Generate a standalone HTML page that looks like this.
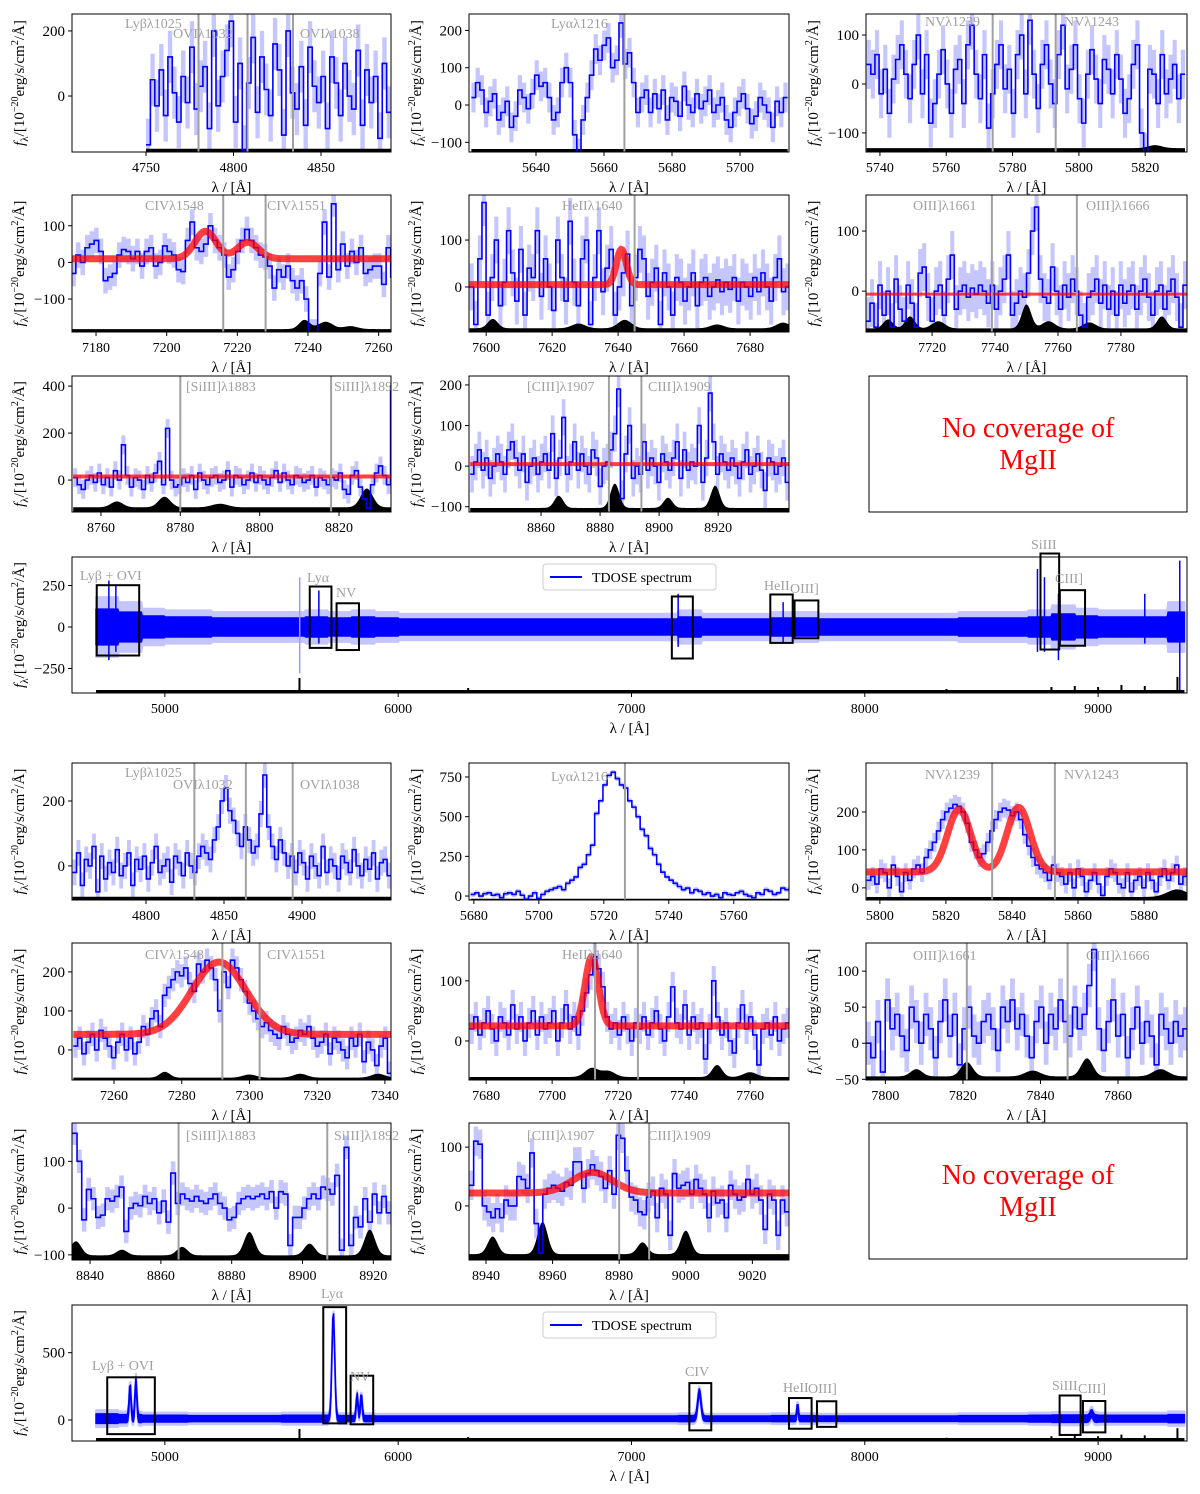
<!DOCTYPE html>
<html><head><meta charset="utf-8"><style>
html,body{margin:0;padding:0;background:#fff}
svg{display:block;font-family:"Liberation Serif",serif}
</style></head><body>
<svg id="fig" width="1200" height="1494" viewBox="0 0 1200 1494"></svg>
<script>
// ---------- data ----------
const fluxP1=[-150,50,-30,80,-60,120,10,-80,60,-20,150,-40,30,90,-100,200,-30,60,140,230,-80,100,-170,40,180,-50,120,20,-60,160,80,-120,200,10,-40,90,-90,150,30,-20,60,-100,120,40,-60,100,0,-40,140,-90,80,-20,60,-130,100,-50];
const fluxP2=[20,60,40,-20,10,30,-40,-20,10,-60,-30,40,20,-10,30,80,50,60,20,-40,-20,60,100,60,-80,-130,-40,20,80,150,120,160,180,100,120,220,110,140,60,-20,20,40,-20,30,-10,40,-40,20,10,-30,50,0,-20,30,-10,10,40,-20,0,20,-40,-60,-20,10,30,-10,-50,-30,20,0,-20,-60,10,-20,20];
const fluxP3=[40,20,60,-20,30,-60,10,50,80,20,-30,40,100,-20,60,-80,-40,20,70,0,-60,30,50,-40,80,120,20,-30,60,-90,-20,40,80,-10,30,-60,60,100,-20,130,20,-50,40,80,0,-40,60,120,-10,30,80,-30,-80,20,70,10,-40,50,30,-20,60,10,-60,-30,40,80,-100,-150,30,20,-40,60,-20,10,40,-30,20];
const fluxP4=[-30,20,0,40,50,60,30,-50,-40,-30,20,35,30,10,30,-10,30,40,-10,0,45,30,20,-20,-25,60,110,40,30,50,100,60,40,20,-40,-20,30,60,90,60,40,20,15,-10,-70,-20,-40,-10,-50,-70,-50,-100,-190,-190,-30,110,-40,160,-20,50,-10,30,0,40,-30,-20,-10,-10,-60,40,-40,-100];
const fluxP5=[0,-80,60,180,-60,20,100,-40,10,120,30,-30,80,-60,40,20,120,-20,60,0,-50,100,20,-30,140,10,-40,60,100,-80,20,120,-10,40,80,-60,0,30,70,-40,20,80,60,-20,10,40,-80,30,0,-60,20,10,-30,0,30,-40,10,20,-20,0,15,-10,10,-5,20,-30,10,0,-20,20,-10,30,0,-30,20,60,-10,0];
const fluxP6=[-50,-20,-60,10,-40,0,-60,20,-30,-50,10,-20,-60,30,40,-10,-50,0,10,-40,20,60,-30,0,10,-10,5,-5,10,0,-20,10,-30,0,20,60,-40,-20,0,-10,30,100,140,20,-10,-20,40,0,-30,10,-10,20,0,-40,-60,-10,0,20,-20,10,-30,0,-40,10,-20,0,10,-30,0,20,-10,-40,0,10,-30,0,20,-10,-60,10];
const fluxP7=[10,-20,-40,0,20,-10,30,-20,10,-30,40,0,150,20,-30,10,0,-40,20,-10,30,80,-20,220,0,-30,-20,10,-10,20,-40,30,0,-20,10,20,-10,0,40,-30,20,10,-20,0,30,-10,20,0,-20,10,40,-10,30,0,-20,20,10,-10,0,20,-30,10,0,-20,10,0,30,-40,-60,20,40,-30,-80,-120,-20,30,60,20,-20,400];
const fluxP8=[-20,10,40,-10,20,-30,0,30,10,-20,40,60,20,-10,30,-40,0,20,-20,10,30,-10,80,-30,20,120,-20,10,60,-10,30,0,-20,40,20,-50,0,10,40,80,190,-80,30,100,-30,0,-20,60,-10,20,0,-40,30,10,-10,20,60,-30,40,-10,10,0,100,-40,20,180,60,-20,30,10,-10,20,0,-30,10,40,-20,0,30,-10,-60,20,10,-20,0,20,-40];
const fluxB1=[-20,40,-60,20,0,60,-80,30,-40,10,-20,50,-30,0,40,-60,20,-10,30,-40,10,60,-20,0,20,-50,30,10,-30,40,0,-20,30,60,40,20,80,120,200,240,170,140,100,60,120,80,40,60,160,280,120,60,20,80,40,0,30,-20,40,10,-40,30,0,-30,60,-20,20,0,-40,30,10,-20,50,0,-30,20,-10,40,-40,10,20,-30];
const fluxB2=[10,20,0,15,20,5,10,-10,15,20,10,30,5,-20,0,20,-15,10,30,40,50,60,40,80,100,120,180,200,260,320,520,600,700,760,780,740,700,680,600,560,500,420,380,300,260,200,150,120,100,80,60,40,50,20,40,30,10,20,0,10,-10,20,10,5,20,30,10,0,-10,20,10,40,30,10,20,50,40];
const fluxB3=[20,30,10,50,40,0,60,30,-10,40,20,50,60,40,80,100,120,150,180,200,210,220,215,200,170,120,100,80,90,120,150,180,200,210,205,190,200,180,140,110,80,60,50,40,20,60,40,30,10,40,0,50,30,-10,20,40,10,-20,30,50,40,10,0,40,-10,20,30,0,40,20,-10,30,50,20,40,60,10,30];
const fluxB4=[10,30,-10,20,40,0,50,30,10,-20,20,40,0,30,-10,20,60,40,80,100,60,140,160,180,200,190,210,170,150,220,200,230,210,180,100,200,160,230,210,180,150,120,100,80,60,70,50,40,30,60,40,20,30,50,40,60,30,10,20,40,-10,30,20,0,-20,30,10,40,-30,20,0,-40,10,30,-60];
const fluxB5=[20,40,10,30,50,20,0,40,30,10,60,20,40,0,30,50,10,40,20,30,50,0,30,60,20,40,10,50,80,110,140,120,90,40,20,30,10,40,20,0,30,20,40,10,30,50,20,0,40,90,30,20,60,10,40,20,30,-30,20,100,40,10,30,0,-20,30,60,20,40,10,-40,20,30,10,40,0,20,30];
const fluxB6=[0,-20,30,-40,60,20,40,10,-10,50,30,0,40,20,-20,30,60,10,40,-30,20,50,10,0,30,40,20,-10,50,30,60,20,40,10,-20,30,50,0,40,20,60,30,10,50,20,40,80,130,20,-10,30,60,10,40,-20,20,50,0,30,10,-30,40,20,0,30,10,20];
const fluxB7=[160,100,-25,40,20,-20,-15,20,15,25,45,-50,0,10,5,25,10,20,-10,15,-30,75,10,30,20,15,25,15,10,20,30,10,0,-25,-20,10,20,25,20,25,30,20,35,0,35,30,-80,-20,-20,0,20,30,20,45,40,30,70,-90,130,-80,-20,-40,20,-30,30,-10,25,-10];
const fluxB8=[35,110,105,0,-10,-20,-5,-20,10,0,0,50,45,30,90,-30,-80,20,30,35,30,25,40,35,75,75,30,55,70,60,50,30,60,20,120,115,60,15,10,-10,-15,15,25,-20,30,20,-50,55,30,35,40,20,45,30,20,-20,25,5,10,-20,35,20,10,15,45,20,30,10,-40,20,10,-50,10,-10];
// wide panels: noise amplitude per 100 A bin from 4700
const ampTop=[180,150,110,100,100,90,90,90,90,100,90,100,90,80,80,80,80,80,80,80,80,80,80,80,80,100,80,80,80,90,90,80,80,80,80,80,80,90,90,90,100,130,110,100,100,100,150];
const ampBot=[70,60,50,50,45,45,45,45,50,50,45,45,40,40,40,40,40,40,40,40,40,40,40,40,40,45,40,40,40,45,45,40,40,40,40,40,40,45,45,45,50,55,55,50,50,50,60];
const featCenters=[4851,4876,5722,5824,5842,7291,7712,8972];
const featPeaks=[240,280,780,170,170,200,100,40];
const featWidths=[4,4,6,4,4,7,3,6];
const spikesTopLam=[4760,4790,5578,5660,7200,7650,8740,8770,8830,9200,9350];
const spikesTopHi=[280,250,300,220,200,150,350,300,200,200,400];
const spikesTopLo=[-200,-150,-280,-100,-120,-100,-150,-150,-200,-100,-380];
const skySpikeLam=[5577,6300,8350,8800,8900,9000,9100,9200,9340];
const skySpikeH=[15,5,4,6,7,6,8,7,16];

// ---------- drawing helpers ----------
const NS='http://www.w3.org/2000/svg';
const svg=document.getElementById('fig');
function mk(tag,attrs,parent){const e=document.createElementNS(NS,tag);for(const k in attrs)e.setAttribute(k,attrs[k]);(parent||svg).appendChild(e);return e;}
let clipId=0;
function fmt(v){return v<0?'\u2212'+Math.abs(v):String(v);}
function ylabel(g,x,cy){
  const t=mk('text',{x:0,y:0,transform:`translate(${x},${cy}) rotate(-90)`,'text-anchor':'middle','font-size':15,fill:'#000'},g);
  
  
  t.innerHTML='<tspan font-style="italic">f</tspan><tspan font-size="11" dy="4">λ</tspan><tspan dy="-4">/[10</tspan><tspan font-size="10" dy="-6">−20</tspan><tspan dy="6">erg/s/cm</tspan><tspan font-size="10" dy="-6">2</tspan><tspan dy="6">/Å]</tspan>';
}
function xlabel(g,cx,y){
  const t=mk('text',{x:cx,y:y,'text-anchor':'middle','font-size':15,fill:'#000'},g);
  
  
  t.textContent='λ / [Å]';
}
function axes(g,c,X,Y){
  const f=mk('rect',{x:c.x,y:c.y,width:c.w,height:c.h,fill:'none',stroke:'#000','stroke-width':1},g);
  
  
  c.xt.forEach(v=>{const px=X(v);
    const tk=mk('line',{x1:px,x2:px,y1:c.y+c.h,y2:c.y+c.h+4,stroke:'#000'},g);
    
    
    const tl=mk('text',{x:px,y:c.y+c.h+20,'text-anchor':'middle','font-size':14},g);
    
    
    tl.textContent=fmt(v);});
  c.yt.forEach(v=>{const py=Y(v);
    const tk=mk('line',{x1:c.x-4,x2:c.x,y1:py,y2:py,stroke:'#000'},g);
    
    
    const tl=mk('text',{x:c.x-7,y:py+5,'text-anchor':'end','font-size':15},g);
    
    
    tl.textContent=fmt(v);});
  xlabel(g,c.x+c.w/2,c.y+c.h+40);
  ylabel(g,c.ylx||c.x-48,c.y+c.h/2);
}
function clip(g,c){
  const id='cp'+(clipId++);
  const cp=mk('clipPath',{id:id},g);
  mk('rect',{x:c.x,y:c.y,width:c.w,height:c.h},cp);
  const inner=mk('g',{'clip-path':`url(#${id})`},g);
  return inner;
}
function drawPanel(c){
  const g=mk('g',{});
  
  
  const X=v=>c.x+(v-c.xr[0])/(c.xr[1]-c.xr[0])*c.w;
  const Y=v=>c.y+c.h-(v-c.yr[0])/(c.yr[1]-c.yr[0])*c.h;
  const inner=clip(g,c);
  const n=c.flux.length, dl=(c.l1-c.l0)/n;
  let eb='';
  c.flux.forEach((f,i)=>{const a=c.l0+i*dl;eb+=`M${X(a)},${Y(f+c.err)}H${X(a+dl)}V${Y(f-c.err)}H${X(a)}Z`;});
  const band=mk('path',{d:eb,fill:'#b3b3ff','fill-opacity':0.75},inner);
  
  
  let sp=`M${X(c.l0)},${c.y+c.h}`;
  for(let k=0;k<=300;k++){const l=c.l0+(c.l1-c.l0)*k/300;let v=c.skyBase;c.sky.forEach(b=>{v+=b[1]*Math.exp(-((l-b[0])**2)/(2*b[2]*b[2]));});sp+=`L${X(l)},${Y(c.yr[0]+v)}`;}
  sp+=`L${X(c.l1)},${c.y+c.h}Z`;
  const sky=mk('path',{d:sp,fill:'#000'},inner);
  
  
  let d=`M${X(c.l0)},${Y(c.flux[0])}`;
  c.flux.forEach((f,i)=>{const a=c.l0+i*dl;d+=`V${Y(f)}H${X(a+dl)}`;});
  const st=mk('path',{d:d,fill:'none',stroke:'#0000ff','stroke-width':1.6},inner);
  
  
  if(c.model){
    let md='';
    for(let k=0;k<=300;k++){const l=c.l0+(c.l1-c.l0)*k/300;let v=c.model.c;c.model.g.forEach(q=>{v+=q[1]*Math.exp(-((l-q[0])**2)/(2*q[2]*q[2]));});md+=(k?'L':'M')+X(l)+','+Y(v);}
    const m=mk('path',{d:md,fill:'none',stroke:'#ff0000','stroke-opacity':0.75,'stroke-width':c.model.w||7},inner);
    
    
  }
  c.lines.forEach(l=>{
    const ln=mk('line',{x1:X(l),x2:X(l),y1:c.y,y2:c.y+c.h,stroke:'#a0a0a0','stroke-width':2},inner);
    
    
  });
  c.labels.forEach(t=>{
    const tx=mk('text',{x:t[1],y:t[2],'font-size':14,fill:'#a0a0a0'},g);
    
    
    tx.textContent=t[0];
  });
  axes(g,c,X,Y);
}
function drawWide(c){
  const g=mk('g',{});
  
  
  const X=v=>c.x+(v-c.xr[0])/(c.xr[1]-c.xr[0])*c.w;
  const Y=v=>c.y+c.h-(v-c.yr[0])/(c.yr[1]-c.yr[0])*c.h;
  const inner=clip(g,c);
  const sig=l=>{let v=c.cont;if(c.feat){featCenters.forEach((m,i)=>{v+=featPeaks[i]*Math.exp(-((l-m)**2)/(2*featWidths[i]**2));});}return v;};
  const ampAt=l=>c.amp[Math.min(c.amp.length-1,Math.max(0,Math.floor((l-4700)/100)))];
  const L0=4705,L1=9370;
  [[c.halo,'#c4c4ff','wide-error-band',2],[c.dark,'#0000ff','wide-flux-band',1.5]].forEach(s=>{
    let up='',lo='';const N=1200;
    for(let k=0;k<=N;k++){const l=L0+(L1-L0)*k/N;const a=ampAt(l)*s[0];up+=(k?'L':'M')+X(l)+','+Y(sig(l)+a);}
    for(let k=N;k>=0;k--){const l=L0+(L1-L0)*k/N;const a=ampAt(l)*s[0];lo+='L'+X(l)+','+Y(sig(l)-a);}
    const p=mk('path',{d:up+lo+'Z',fill:s[1],stroke:s[1],'stroke-width':s[3],'stroke-linejoin':'round'},inner);
    
    
  });
  if(c.spikes){
    spikesTopLam.forEach((l,i)=>{
      const sl=mk('line',{x1:X(l),x2:X(l),y1:Y(spikesTopHi[i]),y2:Y(spikesTopLo[i]),stroke:i==2?'#9a9aff':'#0000ff','stroke-width':1.5},inner);
      
      
    });
  }
  let sp=`M${X(4705)},${c.y+c.h}V${c.y+c.h-3}H${X(9370)}V${c.y+c.h}Z`;
  skySpikeLam.forEach((l,i)=>{sp+=`M${X(l)-1},${c.y+c.h}V${c.y+c.h-skySpikeH[i]*c.skyScale}H${X(l)+1}V${c.y+c.h}Z`;});
  const sky=mk('path',{d:sp,fill:'#000'},inner);
  
  
  c.boxes.forEach(b=>{
    const r=mk('rect',{x:X(b[0]),y:Y(b[3]),width:X(b[1])-X(b[0]),height:Y(b[2])-Y(b[3]),fill:'none',stroke:'#000','stroke-width':2},g);
    
    
  });
  c.labels.forEach(t=>{
    const tx=mk('text',{x:t[1],y:t[2],'font-size':14,fill:'#a0a0a0'},g);
    
    
    tx.textContent=t[0];
  });
  const lg=mk('g',{},g);
  
  
  mk('rect',{x:543,y:c.y+7,width:173,height:26,fill:'#fff',stroke:'#ccc',rx:3},lg);
  const ll=mk('line',{x1:550,x2:582,y1:c.y+20,y2:c.y+20,stroke:'#0000ff','stroke-width':2},lg);
  
  
  const lt=mk('text',{x:592,y:c.y+25,'font-size':14},lg);
  
  
  lt.textContent='TDOSE spectrum';
  axes(g,c,X,Y);
}
function noCov(y){
  const g=mk('g',{});
  
  
  mk('rect',{x:869,y:y,width:318,height:136,fill:'none',stroke:'#000'},g);
  const t1=mk('text',{x:1028,y:y+61,'text-anchor':'middle','font-size':28,fill:'#ff0000'},g);
  
  
  t1.textContent='No coverage of';
  const t2=mk('text',{x:1028,y:y+93,'text-anchor':'middle','font-size':28,fill:'#ff0000'},g);
  
  
  t2.textContent='MgII';
}
const W=319,H=137;
// ---------- top block ----------
drawPanel({name:'panel-top-lyb-ovi',x:72,y:14,w:W,h:138,xr:[4707.7,4890],yr:[-172,252],xt:[4750,4800,4850],yt:[0,200],l0:4750,l1:4890,flux:fluxP1,err:80,skyBase:10,sky:[],lines:[4780,4808,4834],labels:[['Lyβλ1025',125,28],['OVIλ1032',173,38],['OVIλ1038',300,38]]});
drawPanel({name:'panel-top-lya',x:469,y:14,w:320,h:138,xr:[5620.3,5714.4],yr:[-126,244],xt:[5640,5660,5680,5700],yt:[-100,0,100,200],l0:5621,l1:5714,flux:fluxP2,err:40,skyBase:8,sky:[],lines:[5666],labels:[['Lyαλ1216',551,28]]});
drawPanel({name:'panel-top-nv',x:866,y:14,w:321,h:138,xr:[5735.8,5832.6],yr:[-139,143],xt:[5740,5760,5780,5800,5820],yt:[-100,0,100],l0:5736,l1:5832,flux:fluxP3,err:50,skyBase:8,sky:[[5823,6,2]],lines:[5774,5793],labels:[['NVλ1239',925,26],['NVλ1243',1064,26]]});
drawPanel({name:'panel-top-civ',x:72,y:195,w:W,h:H,xr:[7173.2,7263.5],yr:[-190,184],xt:[7180,7200,7220,7240,7260],yt:[-100,0,100],l0:7173,l1:7266,flux:fluxP4,err:35,skyBase:8,sky:[[7239,25,1.5],[7245,20,2],[7252,8,2]],model:{c:10,g:[[7211,75,3],[7223,45,3]]},lines:[7216,7228],labels:[['CIVλ1548',145,210],['CIVλ1551',267,210]]});
drawPanel({name:'panel-top-heii',x:469,y:195,w:320,h:H,xr:[7594.8,7691.8],yr:[-96,196],xt:[7600,7620,7640,7660,7680],yt:[0,100],l0:7595,l1:7692,flux:fluxP5,err:50,skyBase:8,sky:[[7602,20,1.5],[7628,10,2],[7642,18,2],[7670,8,2],[7690,12,2]],model:{c:5,g:[[7641,75,1.5]]},lines:[7645],labels:[['HeIIλ1640',562,210]]});
drawPanel({name:'panel-top-oiii',x:866,y:195,w:321,h:H,xr:[7699,7801],yr:[-68,160],xt:[7720,7740,7760,7780],yt:[0,100],l0:7699,l1:7801,flux:fluxP6,err:40,skyBase:6,sky:[[7706,15,1.5],[7713,20,1.5],[7722,12,2],[7750,40,1.5],[7757,12,2],[7770,10,2],[7793,20,1.5]],model:{c:-5,g:[],w:3},lines:[7739,7766],labels:[['OIII]λ1661',913,210],['OIII]λ1666',1086,210]]});
drawPanel({name:'panel-top-siiii',x:72,y:376,w:W,h:136,xr:[8752.7,8833.1],yr:[-136,443],xt:[8760,8780,8800,8820],yt:[0,200,400],l0:8753,l1:8834,flux:fluxP7,err:40,skyBase:20,sky:[[8764,25,1.5],[8776,45,1.5],[8790,15,2],[8827,80,1.5]],model:{c:15,g:[],w:4},lines:[8780,8818],labels:[['[SiIII]λ1883',186,391],['SiIII]λ1892',334,391]]});
drawPanel({name:'panel-top-ciii',x:469,y:376,w:320,h:136,xr:[8835.6,8944],yr:[-113,222],xt:[8860,8880,8900,8920],yt:[-100,0,100,200],l0:8836,l1:8944,flux:fluxP8,err:45,skyBase:10,sky:[[8866,30,1.5],[8885,60,1.5],[8903,25,1.5],[8919,55,1.5]],model:{c:5,g:[],w:4},lines:[8883,8894],labels:[['[CIII]λ1907',527,391],['CIII]λ1909',648,391]]});
noCov(376);
drawWide({name:'panel-top-full-spectrum',x:72,y:557,w:1115,h:136,xr:[4602,9381],yr:[-398,422],xt:[5000,6000,7000,8000,9000],yt:[-250,0,250],amp:ampTop,dark:0.6,halo:1.0,cont:0,feat:false,spikes:true,skyScale:1,ylx:24,
 boxes:[[4708,4890,-172,252],[5621,5714,-126,244],[5736,5832,-139,143],[7173,7263,-190,184],[7595,7691,-96,196],[7699,7801,-68,160],[8753,8833,-136,443],[8836,8944,-113,222]],
 labels:[['Lyβ + OVI',80,580],['Lyα',307,582],['NV',336,597],['CIV',666,585],['HeII',764,590],['OIII]',790,593],['SiIII',1031,549],['CIII]',1055,583]]});
// ---------- bottom block ----------
drawPanel({name:'panel-bottom-lyb-ovi',x:72,y:763,w:W,h:H,xr:[4752.6,4957],yr:[-105,317],xt:[4800,4850,4900],yt:[0,200],l0:4753,l1:4957,flux:fluxB1,err:40,skyBase:10,sky:[],lines:[4831,4864,4894],labels:[['Lyβλ1025',125,777],['OVIλ1032',173,789],['OVIλ1038',300,789]]});
drawPanel({name:'panel-bottom-lya',x:469,y:763,w:320,h:H,xr:[5678.5,5777],yr:[-25,838],xt:[5680,5700,5720,5740,5760],yt:[0,250,500,750],l0:5679,l1:5777,flux:fluxB2,err:15,skyBase:8,sky:[],lines:[5726.5],labels:[['Lyαλ1216',551,781]]});
drawPanel({name:'panel-bottom-nv',x:866,y:763,w:321,h:H,xr:[5795.8,5893],yr:[-32,329],xt:[5800,5820,5840,5860,5880],yt:[0,100,200],l0:5796,l1:5893,flux:fluxB3,err:25,skyBase:8,sky:[[5890,20,3]],model:{c:42,g:[[5824,165,3.5],[5842,170,3.5]]},lines:[5834,5853],labels:[['NVλ1239',925,779],['NVλ1243',1064,779]]});
drawPanel({name:'panel-bottom-civ',x:72,y:943,w:W,h:H,xr:[7247.6,7341.8],yr:[-77,274],xt:[7260,7280,7300,7320,7340],yt:[0,100,200],l0:7248,l1:7342,flux:fluxB4,err:30,skyBase:6,sky:[[7275,15,1.5],[7300,8,2],[7315,10,2],[7338,10,2]],model:{c:40,g:[[7291,185,8]]},lines:[7292,7303],labels:[['CIVλ1548',145,959],['CIVλ1551',267,959]]});
drawPanel({name:'panel-bottom-heii',x:469,y:943,w:320,h:H,xr:[7674.8,7771.8],yr:[-65,163],xt:[7680,7700,7720,7740,7760],yt:[0,100],l0:7675,l1:7772,flux:fluxB5,err:25,skyBase:5,sky:[[7712,15,2],[7717,10,2],[7750,20,1.5],[7760,8,2]],model:{c:25,g:[[7712,115,2]]},lines:[7713,7726],labels:[['HeIIλ1640',562,959]]});
drawPanel({name:'panel-bottom-oiii',x:866,y:943,w:321,h:H,xr:[7795,7877.8],yr:[-51,139],xt:[7800,7820,7840,7860],yt:[-50,0,50,100],l0:7795,l1:7878,flux:fluxB6,err:30,skyBase:5,sky:[[7808,10,1.5],[7821,20,1.5],[7838,8,2],[7852,25,1.5],[7871,10,2]],lines:[7821,7847],labels:[['OIII]λ1661',913,960],['OIII]λ1666',1086,960]]});
drawPanel({name:'panel-bottom-siiii',x:72,y:1123,w:W,h:H,xr:[8834.9,8925],yr:[-111,182],xt:[8840,8860,8880,8900,8920],yt:[-100,0,100],l0:8835,l1:8925,flux:fluxB7,err:25,skyBase:10,sky:[[8836,30,1.5],[8849,12,1.5],[8866,18,1.5],[8885,50,1.5],[8902,25,1.5],[8919,55,1.5]],lines:[8865,8907],labels:[['[SiIII]λ1883',186,1140],['SiIII]λ1892',334,1140]]});
drawPanel({name:'panel-bottom-ciii',x:469,y:1123,w:320,h:H,xr:[8934.9,9031],yr:[-92,141],xt:[8940,8960,8980,9000,9020],yt:[0,100],l0:8935,l1:9031,flux:fluxB8,err:25,skyBase:10,sky:[[8942,30,1.5],[8957,55,1.5],[8987,20,1.5],[9000,40,1.5]],model:{c:22,g:[[8972,35,6]]},lines:[8980,8989],labels:[['[CIII]λ1907',527,1140],['CIII]λ1909',648,1140]]});
noCov(1123);
drawWide({name:'panel-bottom-full-spectrum',x:72,y:1305,w:1115,h:136,xr:[4602,9381],yr:[-156,854],xt:[5000,6000,7000,8000,9000],yt:[0,500],amp:ampBot,dark:0.5,halo:0.9,cont:10,feat:true,spikes:false,skyScale:0.8,ylx:24,
 boxes:[[4753,4957,-105,317],[5679,5777,-25,838],[5796,5893,-32,329],[7248,7342,-77,274],[7675,7772,-65,163],[7795,7878,-51,139],[8835,8925,-111,182],[8935,9031,-92,141]],
 labels:[['Lyβ + OVI',92,1370],['Lyα',321,1298],['NV',350,1381],['CIV',685,1376],['HeII',783,1392],['OIII]',808,1393],['SiIII',1052,1390],['CIII]',1078,1393]]});
</script>
</body></html>
